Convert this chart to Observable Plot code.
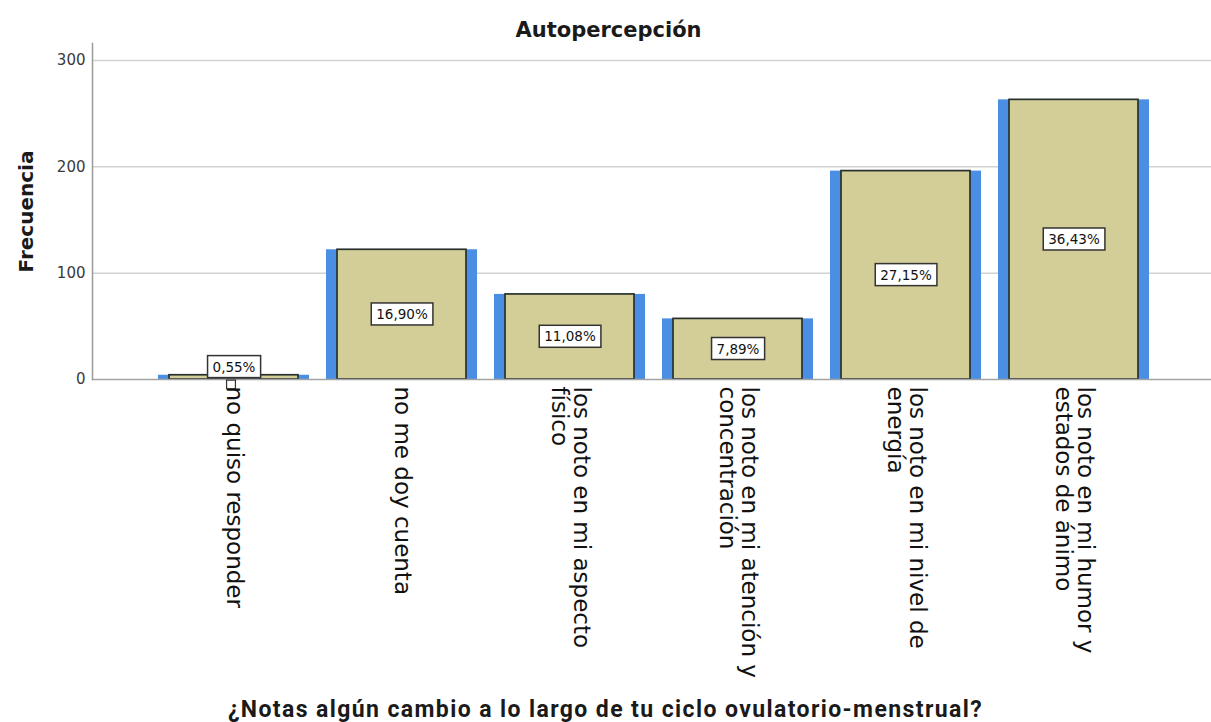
<!DOCTYPE html>
<html>
<head>
<meta charset="utf-8">
<script src="https://cdn.jsdelivr.net/npm/d3@7"></script>
<script src="https://cdn.jsdelivr.net/npm/@observablehq/plot@0.6"></script>
<style>
  html, body { margin: 0; padding: 0; background: #fff; }
  body { width: 1211px; height: 722px; overflow: hidden; font-family: "DejaVu Sans", sans-serif; }
  #title { height: 36px; box-sizing: border-box; padding-top: 18px; line-height: 20px; text-align: center;
           font: bold 21px "DejaVu Sans", sans-serif; color: #1a1a1a; padding-left: 6px; white-space: nowrap; }
  #xtitle { height: 32px; box-sizing: border-box; padding-top: 6px; line-height: 26px; text-align: center;
            font: bold 23px Roboto, "DejaVu Sans", sans-serif; letter-spacing: 1.4px; color: #1a1a1a; white-space: nowrap; }
  #chart { height: 654px; }
</style>
</head>
<body>
<div id="title">Autopercepción</div>
<div id="chart"></div>
<div id="xtitle">¿Notas algún cambio a lo largo de tu ciclo ovulatorio-menstrual?</div>
<script>
const categories = [
  "no quiso responder",
  "no me doy cuenta",
  "los noto en mi aspecto físico",
  "los noto en mi atención y concentración",
  "los noto en mi nivel de energía",
  "los noto en mi humor y estados de ánimo"
];
const tickLabels = [
  "no quiso responder",
  "no me doy cuenta",
  "los noto en mi aspecto\nfísico",
  "los noto en mi atención y\nconcentración",
  "los noto en mi nivel de\nenergía",
  "los noto en mi humor y\nestados de ánimo"
];
const counts = [4, 122, 80, 57, 196, 263];
const yTicks = [0, 100, 200, 300];
const yLabel = "Frecuencia";

const total = d3.sum(counts);
const data = categories.map((c, i) => ({
  cat: c,
  tick: tickLabels[i],
  n: counts[i],
  pct: (counts[i] / total * 100).toFixed(2).replace(".", ",") + "%",
  ly: counts[i] < 25 ? counts[i] + 7.5 : counts[i] / 2
}));

const chart = Plot.plot({
  width: 1211,
  height: 654,
  marginTop: 7,
  marginBottom: 311,
  marginLeft: 92,
  marginRight: 0,
  style: {color: "#333", fontFamily: "DejaVu Sans, sans-serif", background: "white"},
  x: {domain: categories, range: [157, 1151], paddingInner: 0.1, paddingOuter: 0, axis: null},
  y: {domain: [0, 316], axis: null},
  marks: [
    Plot.ruleY(yTicks.filter(d => d > 0), {stroke: "#d2d2d2", strokeWidth: 1.5}),
    Plot.barY(data, {x: "cat", y: "n", fill: "#4a8fe3"}),
    Plot.barY(data, {x: "cat", y: "n", fill: "#d3cd97", stroke: "#28302c", strokeWidth: 1.7, insetLeft: 11, insetRight: 11}),
    Plot.ruleY([0], {stroke: "#a3a3a3", strokeWidth: 1.5}),
    Plot.frame({anchor: "left", stroke: "#9a9a9a", strokeWidth: 1.5}),
    Plot.axisY({ticks: yTicks, tickSize: 0, tickPadding: 7, fontSize: 15, fill: "#3a3a3a"}),
    Plot.dot(data.filter(d => d.n < 25), {x: "cat", y: 0, symbol: "square", r: 5, stroke: "#333", fill: "white", strokeWidth: 1.2, dy: 5, dx: -3}),
    Plot.text(data, {x: "cat", text: "tick", frameAnchor: "bottom", rotate: 90, textAnchor: "start", lineAnchor: "middle",
                     dy: 7, fontSize: 23, lineHeight: 0.98, fill: "#111"}),
    Plot.text(data, {x: "cat", y: "ly", text: "pct", fontSize: 13.5, fill: "#111"}),
    Plot.text([yLabel], {frameAnchor: "left", text: d => d, rotate: -90, textAnchor: "middle", dx: -66, fontSize: 20, fontWeight: "bold", fill: "#1a1a1a"})
  ]
});
document.getElementById("chart").appendChild(chart);

// white boxes behind the percentage labels
chart.querySelectorAll("text").forEach(t => {
  if (!/%$/.test(t.textContent)) return;
  const b = t.getBBox();
  const r = document.createElementNS("http://www.w3.org/2000/svg", "rect");
  r.setAttribute("x", b.x - 5);
  r.setAttribute("y", b.y - 3);
  r.setAttribute("width", b.width + 10);
  r.setAttribute("height", b.height + 6);
  r.setAttribute("fill", "white");
  r.setAttribute("stroke", "#333");
  r.setAttribute("stroke-width", 1.5);
  const tr = t.getAttribute("transform");
  if (tr) r.setAttribute("transform", tr);
  t.parentNode.insertBefore(r, t);
});
</script>
</body>
</html>
